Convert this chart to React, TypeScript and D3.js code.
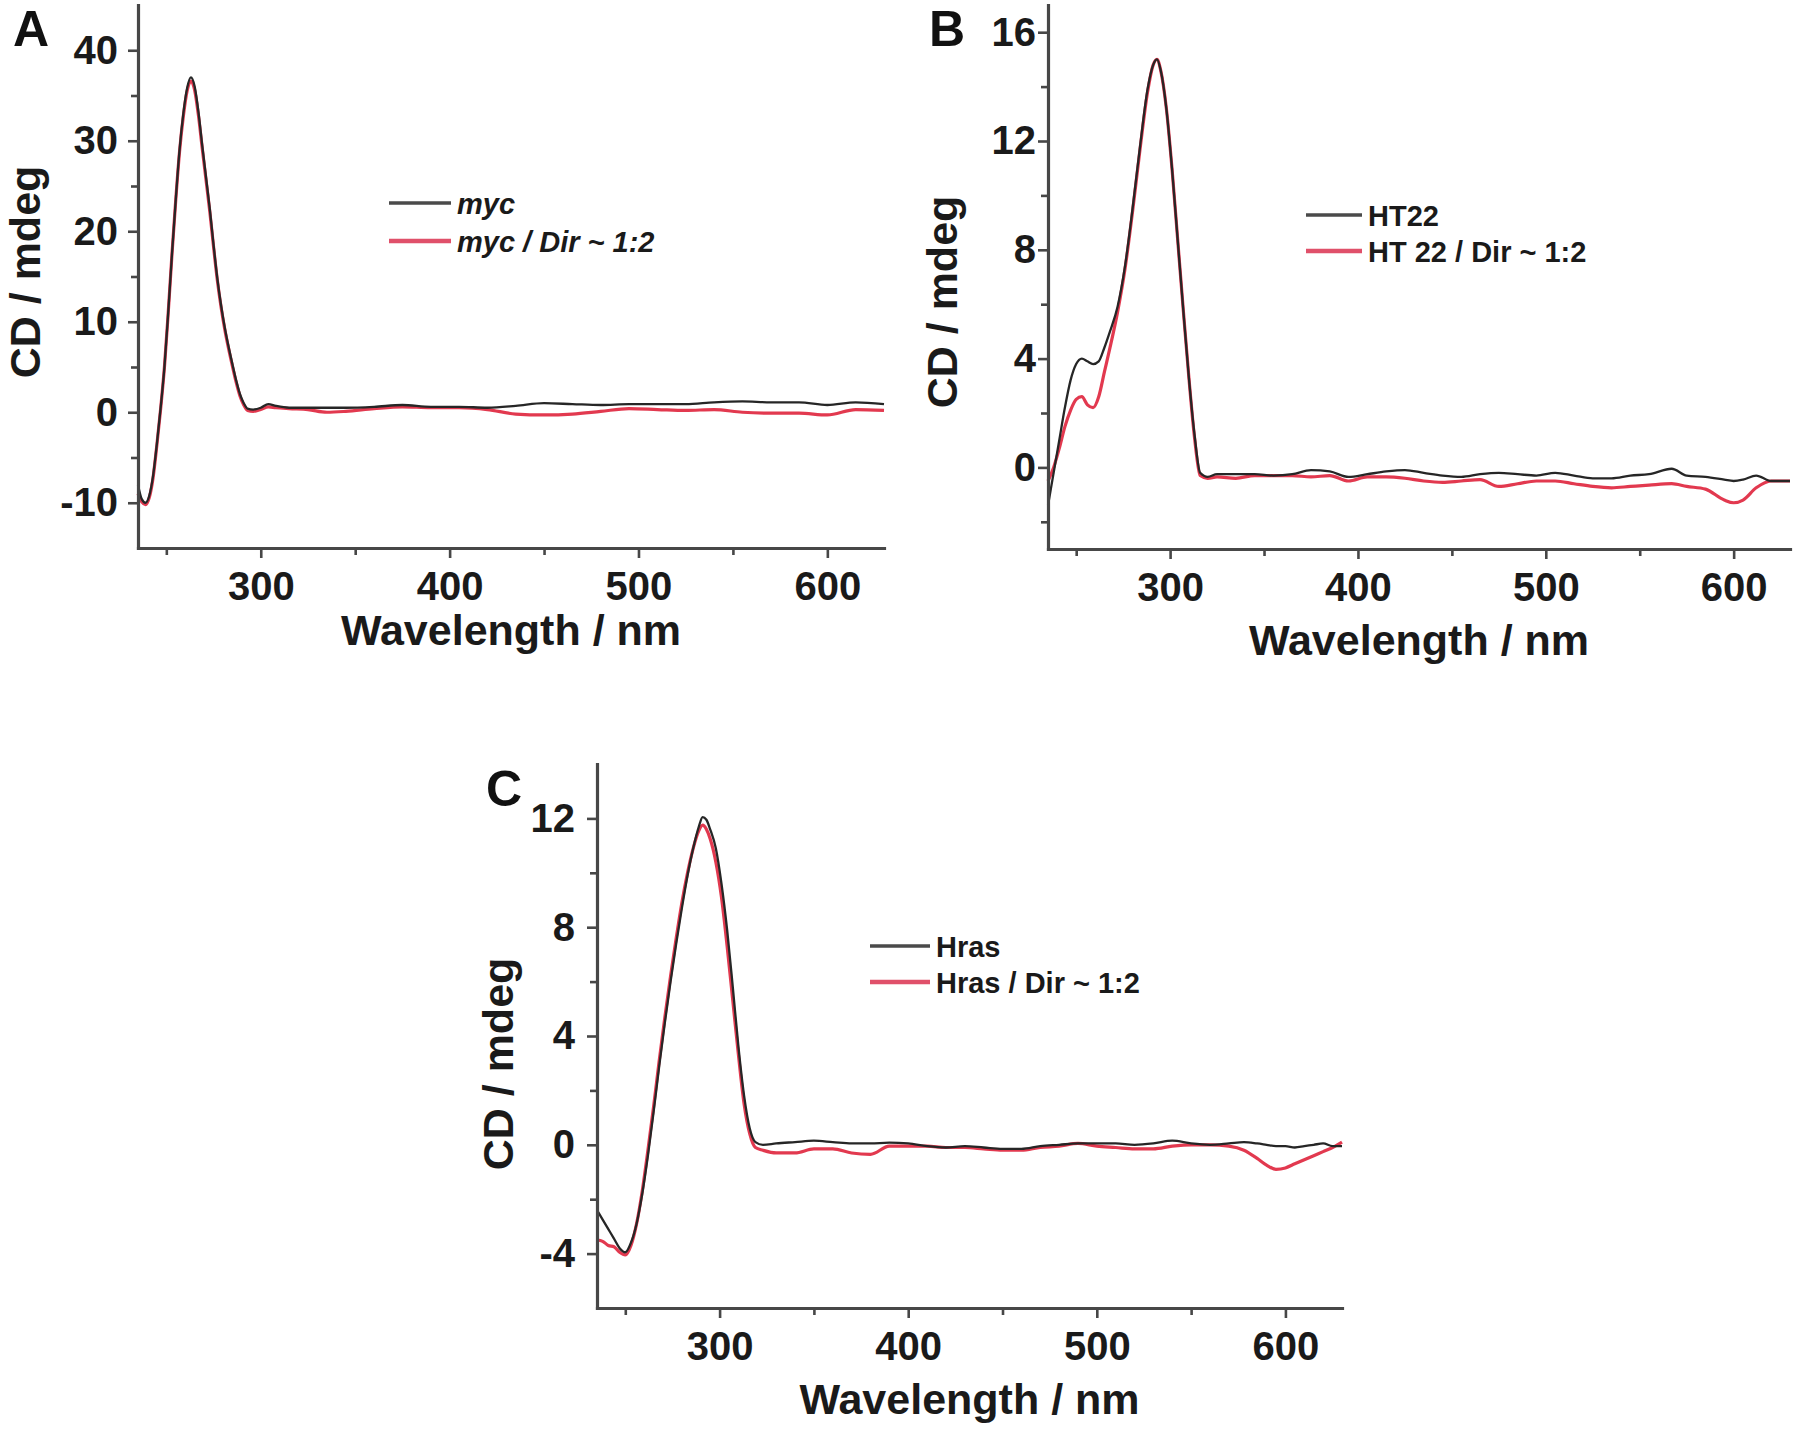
import React, { useEffect, useRef } from "react";
import * as d3 from "d3";

// ---------- data ----------
const wlA = [235, 237, 239, 241, 243, 245, 247, 249, 251, 253, 255, 257, 259, 261, 263, 265, 267, 269, 271, 273, 275, 277, 279, 281, 283, 285, 287, 289, 291, 293, 296, 300, 304, 308, 315, 325, 335, 345, 360, 375, 390, 405, 420, 435, 450, 465, 480, 495, 510, 525, 540, 555, 570, 585, 600, 615, 630];
const mycValues = [-8.0, -9.6, -10.0, -9.2, -7.0, -3.5, 0.5, 5.0, 11.0, 17.5, 23.5, 29.0, 33.0, 35.8, 37.0, 36.0, 33.2, 29.5, 26.0, 22.5, 18.5, 14.8, 11.8, 9.3, 7.2, 5.3, 3.5, 2.0, 1.0, 0.4, 0.3, 0.5, 0.9, 0.7, 0.5, 0.5, 0.5, 0.5, 0.6, 0.8, 0.6, 0.6, 0.5, 0.7, 1.0, 0.9, 0.8, 0.9, 0.9, 0.9, 1.1, 1.2, 1.1, 1.1, 0.8, 1.1, 0.9];
const mycDirValues = [-9.0, -9.9, -10.2, -9.4, -7.2, -3.6, 0.4, 5.0, 11.0, 17.5, 23.5, 28.8, 32.7, 35.5, 36.6, 35.6, 32.8, 29.2, 25.7, 22.2, 18.3, 14.6, 11.6, 9.1, 7.0, 5.1, 3.3, 1.8, 0.8, 0.2, 0.1, 0.3, 0.6, 0.5, 0.4, 0.3, 0.0, 0.1, 0.4, 0.6, 0.5, 0.5, 0.3, -0.2, -0.3, -0.2, 0.1, 0.4, 0.3, 0.2, 0.3, 0.0, -0.1, -0.1, -0.3, 0.3, 0.2];

const wlB = [235, 238, 241, 244, 247, 250, 253, 256, 259, 262, 265, 268, 272, 276, 280, 284, 288, 291, 293, 295, 298, 301, 304, 307, 310, 313, 316, 320, 325, 335, 345, 355, 365, 375, 385, 395, 405, 415, 425, 435, 445, 455, 465, 475, 485, 495, 505, 515, 525, 535, 545, 555, 567, 575, 585, 595, 600, 605, 612, 620, 630];
const ht22Values = [-1.4, -0.2, 1.0, 2.2, 3.2, 3.8, 4.0, 3.9, 3.8, 3.9, 4.4, 5.0, 5.9, 7.4, 9.5, 11.8, 13.9, 14.8, 15.0, 14.6, 13.2, 11.0, 8.4, 5.8, 3.3, 1.2, -0.2, -0.35, -0.25, -0.25, -0.25, -0.3, -0.25, -0.1, -0.15, -0.35, -0.25, -0.15, -0.1, -0.2, -0.3, -0.35, -0.25, -0.2, -0.25, -0.3, -0.2, -0.3, -0.4, -0.4, -0.3, -0.25, -0.05, -0.3, -0.35, -0.45, -0.5, -0.45, -0.3, -0.5, -0.5];
const ht22DirValues = [-0.5, 0.0, 0.7, 1.5, 2.1, 2.5, 2.6, 2.3, 2.2, 2.6, 3.5, 4.4, 5.7, 7.3, 9.4, 11.7, 13.8, 14.8, 15.0, 14.6, 13.2, 11.0, 8.4, 5.8, 3.3, 1.1, -0.3, -0.4, -0.35, -0.4, -0.3, -0.3, -0.3, -0.35, -0.3, -0.5, -0.35, -0.35, -0.4, -0.5, -0.55, -0.5, -0.45, -0.7, -0.6, -0.5, -0.5, -0.6, -0.7, -0.75, -0.7, -0.65, -0.6, -0.7, -0.8, -1.2, -1.3, -1.2, -0.75, -0.5, -0.5];

const wlC = [235, 238, 241, 244, 247, 250, 253, 256, 259, 262, 265, 268, 271, 274, 277, 280, 283, 286, 289, 291, 293, 295, 298, 301, 304, 307, 310, 313, 316, 319, 323, 330, 340, 350, 360, 370, 380, 390, 400, 410, 420, 430, 440, 450, 460, 470, 480, 490, 500, 510, 520, 530, 540, 550, 560, 570, 578, 585, 590, 595, 600, 605, 610, 615, 620, 625, 630];
const hrasValues = [-2.4, -2.75, -3.1, -3.45, -3.8, -3.95, -3.6, -2.9, -1.8, -0.4, 1.2, 2.9, 4.5, 6.0, 7.4, 8.7, 9.9, 10.9, 11.7, 12.05, 11.95, 11.6, 10.9, 9.6, 7.9, 5.8, 3.6, 1.8, 0.6, 0.1, 0.0, 0.05, 0.1, 0.15, 0.1, 0.05, 0.05, 0.08, 0.05, -0.05, -0.1, -0.05, -0.1, -0.15, -0.15, -0.05, 0.0, 0.05, 0.05, 0.05, 0.0, 0.05, 0.15, 0.05, 0.0, 0.05, 0.1, 0.05, 0.0, -0.05, -0.05, -0.1, -0.05, 0.0, 0.05, -0.05, -0.05];
const hrasDirValues = [-3.5, -3.55, -3.7, -3.75, -3.95, -4.05, -3.7, -2.9, -1.7, -0.2, 1.4, 3.1, 4.7, 6.2, 7.6, 8.9, 10.0, 10.9, 11.55, 11.75, 11.6, 11.25, 10.4, 9.1, 7.3, 5.3, 3.3, 1.5, 0.4, -0.1, -0.2, -0.3, -0.3, -0.15, -0.15, -0.3, -0.35, -0.05, -0.05, -0.05, -0.1, -0.1, -0.15, -0.2, -0.2, -0.1, -0.05, 0.05, -0.05, -0.1, -0.15, -0.15, -0.05, 0.0, 0.0, -0.05, -0.2, -0.5, -0.75, -0.9, -0.85, -0.7, -0.55, -0.4, -0.25, -0.1, 0.1];

const xDomain = [235, 630];
const xTicks = [300, 400, 500, 600];
const xMinorTicks = [250, 350, 450, 550];

const yDomainA = [-15, 45];
const yTicksA = [-10, 0, 10, 20, 30, 40];
const yMinorA = [-5, 5, 15, 25, 35];
const yDomainB = [-3, 17];
const yTicksB = [0, 4, 8, 12, 16];
const yMinorB = [-2, 2, 6, 10, 14];
const yDomainC = [-6, 14];
const yTicksC = [-4, 0, 4, 8, 12];
const yMinorC = [-2, 2, 6, 10];

const legendA = ["myc", "myc / Dir ~ 1:2"];
const legendB = ["HT22", "HT 22 / Dir ~ 1:2"];
const legendC = ["Hras", "Hras / Dir ~ 1:2"];
const panelLetters = ["A", "B", "C"];
const xTitle = "Wavelength / nm";
const yTitle = "CD / mdeg";

// ---------- style ----------
const FONT = "'Liberation Sans', Arial, Helvetica, sans-serif";
const AXIS = "#474747";
const BLACK = "#262626";
const RED = "#e2394f";
const TEXT = "#1a1a1a";

type Panel = {
  letter: string;
  letterX: number;
  letterY: number;
  left: number;
  right: number;
  top: number;
  bottom: number;
  yDomain: number[];
  yTicks: number[];
  yMinor: number[];
  yLabelGap: number;
  wl: number[];
  s1: number[];
  s2: number[];
  legend: string[];
  legendItalic: boolean;
  legX: number;
  legLen: number;
  legY: number;
  legGap: number;
  yTitleX: number;
  yTitleY: number;
  xTitleY: number;
};

const panels: Panel[] = [
  {
    letter: panelLetters[0], letterX: 13, letterY: 46,
    left: 138, right: 884, top: 5, bottom: 548,
    yDomain: yDomainA, yTicks: yTicksA, yMinor: yMinorA, yLabelGap: 10,
    wl: wlA, s1: mycValues, s2: mycDirValues,
    legend: legendA, legendItalic: true, legX: 389, legLen: 62, legY: 203, legGap: 38,
    yTitleX: 40, yTitleY: 272, xTitleY: 645,
  },
  {
    letter: panelLetters[1], letterX: 929, letterY: 46,
    left: 1048, right: 1790, top: 5, bottom: 549,
    yDomain: yDomainB, yTicks: yTicksB, yMinor: yMinorB, yLabelGap: 2,
    wl: wlB, s1: ht22Values, s2: ht22DirValues,
    legend: legendB, legendItalic: false, legX: 1306, legLen: 56, legY: 215, legGap: 36,
    yTitleX: 957, yTitleY: 302, xTitleY: 655,
  },
  {
    letter: panelLetters[2], letterX: 486, letterY: 806,
    left: 597, right: 1342, top: 764, bottom: 1308,
    yDomain: yDomainC, yTicks: yTicksC, yMinor: yMinorC, yLabelGap: 12,
    wl: wlC, s1: hrasValues, s2: hrasDirValues,
    legend: legendC, legendItalic: false, legX: 870, legLen: 60, legY: 946, legGap: 36,
    yTitleX: 513, yTitleY: 1064, xTitleY: 1414,
  },
];

function drawPanel(svg: d3.Selection<SVGSVGElement, unknown, null, undefined>, p: Panel) {
  const x = d3.scaleLinear().domain(xDomain).range([p.left, p.right]);
  const y = d3.scaleLinear().domain(p.yDomain).range([p.bottom, p.top]);
  const g = svg.append("g");

  // curves
  const line = (vals: number[]) =>
    d3
      .line<number>()
      .x((_, i) => x(p.wl[i]))
      .y((d) => y(d))
      .curve(d3.curveMonotoneX)(vals);

  g.append("path").attr("d", line(p.s2)).attr("fill", "none").attr("stroke", RED).attr("stroke-width", 3.2).attr("stroke-linejoin", "round");
  g.append("path").attr("d", line(p.s1)).attr("fill", "none").attr("stroke", BLACK).attr("stroke-width", 2.3).attr("stroke-linejoin", "round");

  // minor ticks
  g.append("g")
    .attr("transform", `translate(0,${p.bottom})`)
    .call(d3.axisBottom(x).tickValues(xMinorTicks).tickSize(7).tickSizeOuter(0).tickFormat(() => ""))
    .call((s) => s.select(".domain").remove());
  g.append("g")
    .attr("transform", `translate(${p.left},0)`)
    .call(d3.axisLeft(y).tickValues(p.yMinor).tickSize(7).tickSizeOuter(0).tickFormat(() => ""))
    .call((s) => s.select(".domain").remove());

  // major axes
  const xa = g
    .append("g")
    .attr("transform", `translate(0,${p.bottom})`)
    .call(d3.axisBottom(x).tickValues(xTicks).tickSize(10).tickSizeOuter(0).tickPadding(14).tickFormat((d) => String(d)));
  const ya = g
    .append("g")
    .attr("transform", `translate(${p.left},0)`)
    .call(d3.axisLeft(y).tickValues(p.yTicks).tickSize(10).tickSizeOuter(0).tickPadding(p.yLabelGap).tickFormat((d) => String(d)));

  [xa, ya].forEach((a) => {
    a.select(".domain").attr("stroke", AXIS).attr("stroke-width", 3.2).attr("stroke-linecap", "square");
    a.selectAll(".tick text").attr("font-family", FONT).attr("font-weight", "bold").attr("font-size", 40).attr("fill", TEXT);
  });
  g.selectAll(".tick line").attr("stroke", AXIS).attr("stroke-width", 2.6);

  // titles
  g.append("text")
    .attr("x", (p.left + p.right) / 2)
    .attr("y", p.xTitleY)
    .attr("text-anchor", "middle")
    .attr("font-family", FONT)
    .attr("font-weight", "bold")
    .attr("font-size", 43)
    .attr("fill", TEXT)
    .text(xTitle);
  g.append("text")
    .attr("transform", `translate(${p.yTitleX},${p.yTitleY}) rotate(-90)`)
    .attr("text-anchor", "middle")
    .attr("font-family", FONT)
    .attr("font-weight", "bold")
    .attr("font-size", 43)
    .attr("fill", TEXT)
    .text(yTitle);
  g.append("text")
    .attr("x", p.letterX)
    .attr("y", p.letterY)
    .attr("font-family", FONT)
    .attr("font-weight", "bold")
    .attr("font-size", 50)
    .attr("fill", "#111")
    .text(p.letter);

  // legend
  const colors = ["#4a4a4a", "#e0506a"];
  p.legend.forEach((label, i) => {
    const ly = p.legY + i * p.legGap;
    g.append("line")
      .attr("x1", p.legX)
      .attr("x2", p.legX + p.legLen)
      .attr("y1", ly)
      .attr("y2", ly)
      .attr("stroke", colors[i])
      .attr("stroke-width", i === 0 ? 3.5 : 4.5);
    g.append("text")
      .attr("x", p.legX + p.legLen + 6)
      .attr("y", ly + 10.5)
      .attr("font-family", FONT)
      .attr("font-weight", "bold")
      .attr("font-style", p.legendItalic ? "italic" : "normal")
      .attr("font-size", 29)
      .attr("fill", TEXT)
      .text(label);
  });
}

export default function App() {
  const ref = useRef<SVGSVGElement | null>(null);
  useEffect(() => {
    if (!ref.current) return;
    const svg = d3.select(ref.current);
    svg.selectAll("*").remove();
    svg.append("rect").attr("width", 1800).attr("height", 1431).attr("fill", "#fff");
    panels.forEach((p) => drawPanel(svg, p));
  }, []);
  return (
    <svg
      ref={ref}
      width={1800}
      height={1431}
      style={{ position: "absolute", left: 0, top: 0, display: "block", background: "#fff" }}
    />
  );
}
